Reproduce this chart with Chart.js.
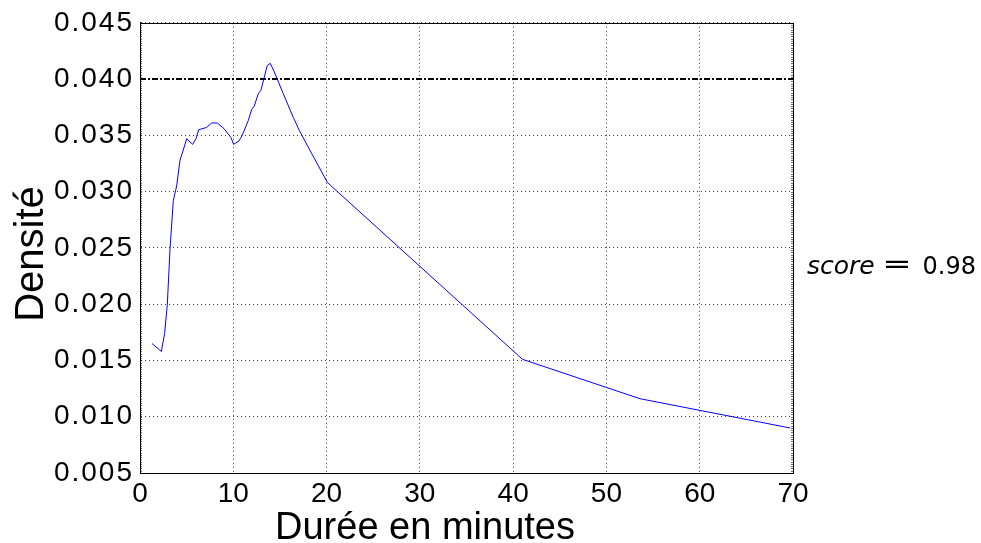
<!DOCTYPE html>
<html>
<head>
<meta charset="utf-8">
<script src="https://cdn.jsdelivr.net/npm/chart.js@4.4.1/dist/chart.umd.min.js"></script>
<style>
  html, body { margin: 0; padding: 0; background: #fff; }
</style>
</head>
<body>
<canvas id="density-chart" width="981" height="543"></canvas>
<script>
// durée (minutes) et densité
const DUREE = [1.29, 2.29, 2.64, 2.93, 3.21, 3.57, 3.93, 4.29, 4.64, 5.0, 5.64, 6.0, 6.29, 7.14, 7.68, 8.29, 9.0, 9.57, 9.75, 10.04, 10.6, 10.96, 11.6, 11.97, 12.25, 12.68, 12.96, 13.64, 13.96, 14.36, 15.36, 16.43, 17.1, 18.2, 20.1, 41.0, 53.6, 69.7];
const DENSITE = [0.0165, 0.0158, 0.0174, 0.0200, 0.0248, 0.0292, 0.0305, 0.0328, 0.0337, 0.0347, 0.0342, 0.0347, 0.0355, 0.0357, 0.0361, 0.0361, 0.0356, 0.0350, 0.0348, 0.0342, 0.0345, 0.0350, 0.0363, 0.0373, 0.0376, 0.0387, 0.0390, 0.0412, 0.0414, 0.0407, 0.0387, 0.0366, 0.0354, 0.0337, 0.0308, 0.0151, 0.0116, 0.0090];
const SEUIL = 0.040;
const X_RANGE = [0, 70];
const Y_RANGE = [0.005, 0.045];
const SCORE_LABEL = 'score';
const SCORE_VALUE = '0.98';

const FONT = '"Liberation Sans", Arial, sans-serif';

const curve = DUREE.map((d, i) => ({ x: d, y: DENSITE[i] }));
const seuilLine = X_RANGE.map(x => ({ x: x, y: SEUIL }));

// cadre, petites graduations, titres et score
const decorations = {
  id: 'decorations',
  afterDatasetsDraw(chart) {
    // y tick labels (z: 1) are drawn after this, a bit wider spaced
    chart.ctx.letterSpacing = '2px';
  },
  afterDraw(chart) {
    const { ctx, chartArea: a, scales } = chart;
    ctx.letterSpacing = '0px';
    ctx.save();
    // minor ticks on left/right spines
    ctx.strokeStyle = 'rgba(0,0,0,0.55)';
    ctx.lineWidth = 1;
    ctx.beginPath();
    for (let v = Y_RANGE[0]; v <= Y_RANGE[1] + 1e-9; v += 0.0002) {
      const y = Math.round(scales.y.getPixelForValue(v)) + 0.5;
      ctx.moveTo(a.left, y); ctx.lineTo(a.left + 2, y);
      ctx.moveTo(a.right, y); ctx.lineTo(a.right - 2, y);
    }
    ctx.stroke();
    // frame
    ctx.strokeStyle = '#000';
    ctx.lineWidth = 1;
    ctx.strokeRect(Math.round(a.left) + 0.5, Math.round(a.top) + 0.5,
      Math.round(a.right - a.left), Math.round(a.bottom - a.top));

    // axis titles
    ctx.fillStyle = '#000';
    ctx.font = '38px ' + FONT;
    ctx.textAlign = 'center';
    ctx.textBaseline = 'alphabetic';
    ctx.fillText('Durée en minutes', 425, 539);
    ctx.save();
    ctx.font = '40px ' + FONT;
    ctx.translate(43, 254);
    ctx.rotate(-Math.PI / 2);
    ctx.fillText('Densité', 0, 0);
    ctx.restore();

    // score
    ctx.textAlign = 'left';
    ctx.font = 'italic 25px "DejaVu Sans", sans-serif';
    ctx.fillText(SCORE_LABEL, 807, 274);
    ctx.save();
    ctx.translate(897, 273);
    ctx.scale(1.35, 1);
    ctx.textAlign = 'center';
    ctx.font = '26px "DejaVu Sans", sans-serif';
    ctx.fillText('=', 0, 0);
    ctx.restore();
    ctx.textAlign = 'right';
    ctx.font = '24px "DejaVu Sans", sans-serif';
    ctx.fillText(SCORE_VALUE, 976, 274);
    ctx.restore();
  }
};

new Chart(document.getElementById('density-chart'), {
  type: 'line',
  data: {
    datasets: [
      {
        label: 'densité',
        data: curve,
        borderColor: 'rgb(0, 0, 255)',
        borderWidth: 1,
        pointRadius: 0,
        tension: 0,
        fill: false
      },
      {
        label: 'seuil',
        data: seuilLine,
        borderColor: '#000',
        borderWidth: 2,
        borderDash: [6, 2, 2, 2],
        pointRadius: 0,
        fill: false
      }
    ]
  },
  plugins: [decorations],
  options: {
    responsive: false,
    animation: false,
    devicePixelRatio: 1,
    layout: { autoPadding: false, padding: { top: 22, right: 188, bottom: 0, left: 0 } },
    plugins: { legend: { display: false }, tooltip: { enabled: false } },
    scales: {
      x: {
        type: 'linear',
        min: X_RANGE[0],
        max: X_RANGE[1],
        afterFit: (s) => { s.height = 70; },
        ticks: {
          stepSize: 10,
          autoSkip: false,
          maxRotation: 0,
          padding: 4,
          color: '#000',
          font: { family: FONT, size: 28 }
        },
        grid: { color: 'rgba(0,0,0,0.75)', lineWidth: 1, drawTicks: false },
        border: { display: true, color: '#000', width: 1, dash: [1, 3] }
      },
      y: {
        type: 'linear',
        min: Y_RANGE[0],
        max: Y_RANGE[1],
        afterFit: (s) => { s.width = 140; },
        ticks: {
          z: 1,
          stepSize: 0.005,
          autoSkip: false,
          padding: 6,
          color: '#000',
          font: { family: FONT, size: 28 },
          callback: (v) => v.toFixed(3)
        },
        grid: { color: 'rgba(0,0,0,0.75)', lineWidth: 1, drawTicks: false },
        border: { display: true, color: '#000', width: 1, dash: [1, 3] }
      }
    }
  }
});
</script>
</body>
</html>
